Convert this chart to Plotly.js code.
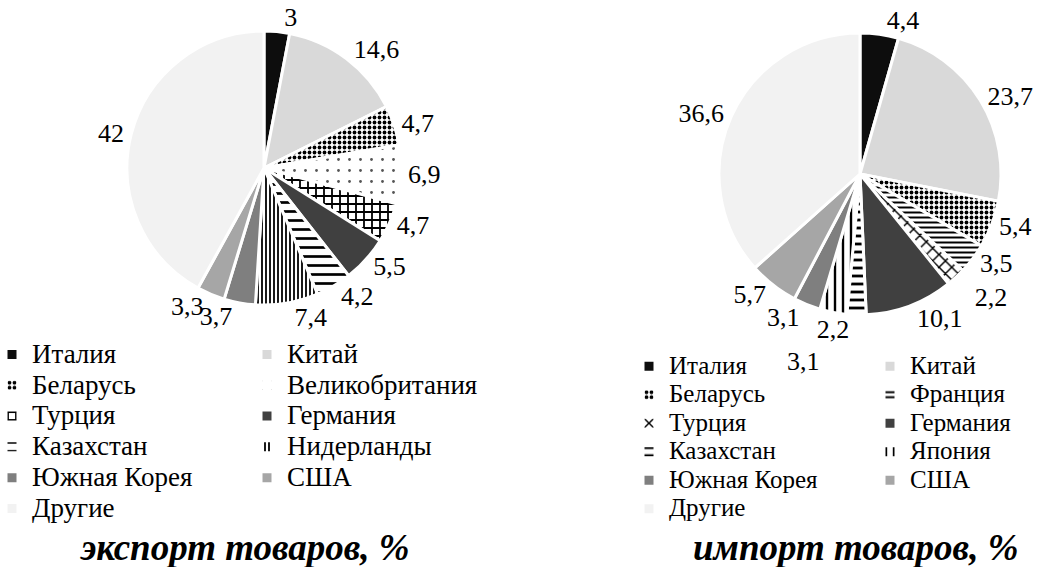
<!DOCTYPE html>
<html><head><meta charset="utf-8">
<script src="https://cdn.plot.ly/plotly-3.0.1.min.js"></script>
<style>
html,body{margin:0;padding:0;background:#fff;overflow:hidden;width:1038px;height:567px;}
#exp{position:absolute;left:-8px;top:0;width:527px;height:567px;}
#imp{position:absolute;left:519px;top:0;width:519px;height:567px;}
</style></head><body>
<div id="exp"></div><div id="imp"></div>
<script>
// ---- data ----
const exportCountries = ['Италия','Китай','Беларусь','Великобритания','Турция','Германия','Казахстан','Нидерланды','Южная Корея','США','Другие'];
const exportShares    = [3, 14.6, 4.7, 6.9, 4.7, 5.5, 4.2, 7.4, 3.7, 3.3, 42];
const importCountries = ['Италия','Китай','Беларусь','Франция','Турция','Германия','Казахстан','Япония','Южная Корея','США','Другие'];
const importShares    = [4.4, 23.7, 5.4, 3.5, 2.2, 10.1, 2.2, 3.1, 3.1, 5.7, 36.6];
const exportTitle = 'экспорт товаров, %';
const importTitle = 'импорт товаров, %';

// ---- styles ----
const FONT = 'Liberation Serif, Times New Roman, serif';
const LABEL_SIZE = 26;
const exportStyle = {
  colors:  ['#0d0d0d','#d9d9d9','#ffffff','#fafafa','#ffffff','#404040','#ffffff','#ffffff','#7f7f7f','#a6a6a6','#f2f2f2'],
  shape:   ['','','.','.','+','','-','|','','',''],
  fg:      ['#000','#000','#000','#555','#000','#000','#000','#000','#000','#000','#000'],
  size:    [8,8,5,11,8,8,9,4,8,8,8],
  solidity:[0.3,0.3,0.45,0.05,0.4,0.3,0.3,0.45,0.3,0.3,0.3],
  labelRing:[1,1,1,1,1,1,1,1,1,1,1]
};
const importStyle = {
  colors:  ['#0d0d0d','#d9d9d9','#ffffff','#ffffff','#ffffff','#404040','#ffffff','#ffffff','#7f7f7f','#a6a6a6','#f2f2f2'],
  shape:   ['','','.','-','x','','-','|','','',''],
  fg:      ['#000','#000','#000','#000','#000','#000','#000','#000','#000','#000','#000'],
  size:    [8,8,5,5,9,8,8,8,8,8,8],
  solidity:[0.3,0.3,0.45,0.4,0.3,0.3,0.35,0.3,0.3,0.3,0.3],
  labelRing:[1,1,1,1,1.12,1,1,1.25,1,1,1]   // push a few crowded labels slightly outward
};

function fmt(v){ return String(v).replace('.', ','); }
function legendLabel(s, px){ return '<span style="font-size:' + px + 'px">' + s + '</span>'; }
function scaleDomain(dom, f){
  const cx = (dom.x[0]+dom.x[1])/2, hx = (dom.x[1]-dom.x[0])/2*f;
  const cy = (dom.y[0]+dom.y[1])/2, hy = (dom.y[1]-dom.y[0])/2*f;
  return {x:[cx-hx, cx+hx], y:[cy-hy, cy+hy]};
}

// Value labels are spread over overlaid transparent copies of the same pie so that
// Plotly does not push neighbouring outside labels apart (no leader lines).
function makePies(names, vals, st, dom, legPx){
  const groups = [];   // {ring, show(i)}
  for (let k = 0; k < 3; k++) groups.push({ring:1, show:i => st.labelRing[i] === 1 && i % 3 === k});
  [...new Set(st.labelRing.filter(r => r !== 1))].forEach(r => groups.push({ring:r, show:i => st.labelRing[i] === r}));
  return groups.map((g, k) => {
    const base = (k === 0);
    return {
      type:'pie', labels:names.map(n => legendLabel(n, legPx)), values:vals,
      text: vals.map(fmt), textinfo:'text',
      textposition: vals.map((v,i) => (g.show(i) ? 'outside' : 'none')),
      hovertext: names, hoverinfo: base ? 'text+percent' : 'skip',
      showlegend: base,
      sort:false, direction:'clockwise', rotation:0,
      domain: scaleDomain(dom, g.ring),
      marker: base ? {colors:st.colors, line:{color:'#ffffff', width:3},
        pattern:{shape:st.shape, fgcolor:st.fg, size:st.size, solidity:st.solidity, fillmode:'replace'}}
        : {colors: vals.map(() => 'rgba(0,0,0,0)'), line:{width:0}},
      textfont:{family:FONT, size:LABEL_SIZE, color:'#000'},
      outsidetextfont:{family:FONT, size:LABEL_SIZE, color:'#000'}
    };
  });
}

function makeLayout(w, legX, legY, entryW, legFont, titleText, titleX){
  return {
    width:w, height:567, margin:{l:0,r:0,t:0,b:0,autoexpand:false},
    font:{family:FONT, color:'#000'},
    paper_bgcolor:'#ffffff', plot_bgcolor:'#ffffff', separators:', ',
    showlegend:true,
    legend:{orientation:'h', x:legX, xanchor:'left', y:legY, yanchor:'top',
      entrywidth:entryW, entrywidthmode:'pixels', traceorder:'normal',
      font:{family:FONT, size:legFont, color:'#000'}, bgcolor:'rgba(0,0,0,0)', borderwidth:0},
    annotations:[{text:'<b><i>'+titleText+'</i></b>', xref:'paper', yref:'paper',
      x:titleX, y:(567-547)/567, xanchor:'center', yanchor:'middle', showarrow:false,
      font:{family:FONT, size:37, color:'#000'}}]
  };
}

const cfg = {displayModeBar:false};

Plotly.newPlot('exp',
  makePies(exportCountries, exportShares, exportStyle, {x:[135/527, 409/527], y:[262/567, 536/567]}, 27),
  makeLayout(527, 0, 233/567, 210, 21.4, exportTitle, 253/527), cfg);

Plotly.newPlot('imp',
  makePies(importCountries, importShares, importStyle, {x:[200/519, 482/519], y:[252/567, 534/567]}, 25),
  makeLayout(519, 110/519, 220/567, 196, 19.6, importTitle, 336/519), cfg);
</script>
</body></html>
